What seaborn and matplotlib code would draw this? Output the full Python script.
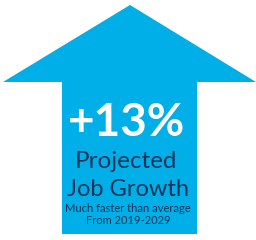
import matplotlib
matplotlib.use("Agg")
import matplotlib.pyplot as plt
from matplotlib.patches import Polygon
import seaborn as sns

# data
growth_pct = 13
headline = ["Projected", "Job Growth"]
subline = ["Much faster than average", "From 2019-2029"]

BLUE = "#00AEE8"
NAVY = "#14355A"

sns.set_theme(style="white")
plt.rcParams["font.family"] = ["Lato", "DejaVu Sans"]

fig = plt.figure(figsize=(2.56, 2.40), dpi=100)
ax = fig.add_axes([0, 0, 1, 1])
ax.set_xlim(0, 256)
ax.set_ylim(240, 0)
ax.axis("off")

# arrow outline (pixel space)
arrow = [(130, 5), (256, 82), (197, 82), (197, 234), (62, 234),
         (62, 82), (3, 82)]
ax.add_patch(Polygon(arrow, closed=True, facecolor=BLUE, edgecolor="none"))

ax.text(127, 123, f"+{growth_pct}%", color="white", fontsize=33,
        fontweight="bold", ha="center", va="center")
ax.text(126, 162, headline[0], color=NAVY, fontsize=17.5,
        ha="center", va="center")
ax.text(128, 189, headline[1], color=NAVY, fontsize=17,
        ha="center", va="center")
ax.text(128, 208, subline[0], color=NAVY, fontsize=8,
        ha="center", va="center")
ax.text(128, 220, subline[1], color=NAVY, fontsize=8,
        ha="center", va="center")

fig.savefig("out.png", dpi=100)
